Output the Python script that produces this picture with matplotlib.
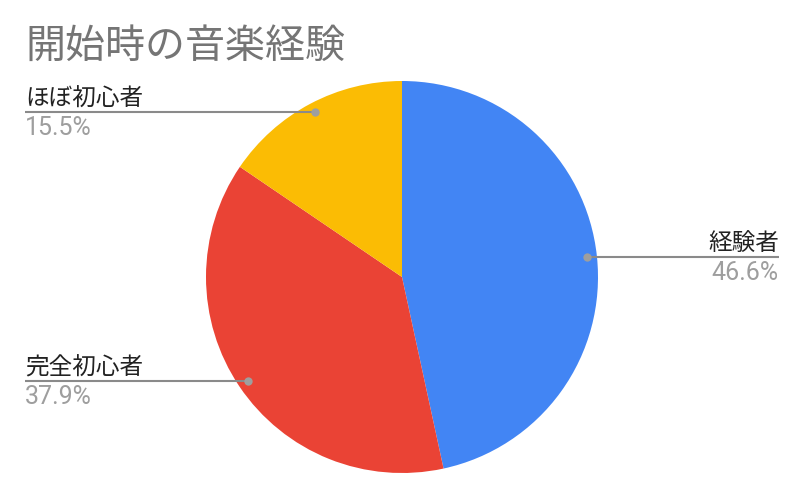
import numpy as np
import matplotlib
matplotlib.use('Agg')
import matplotlib.pyplot as plt

title = '開始時の音楽経験'
labels = ['経験者', '完全初心者', 'ほぼ初心者']
values = [46.6, 37.9, 15.5]
colors = ['#4285F4', '#EA4335', '#FBBC04']

W, H = 804, 498
cx, cy, R = 402, H - 277, 196

fig = plt.figure(figsize=(W / 100, H / 100), dpi=100)
ax = fig.add_axes([0, 0, 1, 1])

wedges, _ = ax.pie(values, colors=colors, startangle=90, counterclock=False,
                   center=(cx, cy), radius=R, frame=True,
                   wedgeprops=dict(linewidth=0))
ax.set_xlim(0, W)
ax.set_ylim(0, H)
ax.axis('off')

jp = ['Noto Sans CJK JP', 'DejaVu Sans']
num = ['Roboto', 'DejaVu Sans']

# leader lines, dots and labels
cum = np.cumsum([0] + values)
for i, (lab, v) in enumerate(zip(labels, values)):
    mid = (cum[i] + v / 2) / 100 * 2 * np.pi
    dx, dy = cx + 0.95 * R * np.sin(mid), cy + 0.95 * R * np.cos(mid)
    if dx > cx:
        x_end, ha = 779, 'right'
    else:
        x_end, ha = 25, 'left'
    ax.plot([dx, x_end], [dy, dy], color='#8a8a8a', lw=1.5, solid_capstyle='butt', zorder=3)
    ax.plot(dx, dy, 'o', color='#9e9e9e', ms=6, mec='none', zorder=4)
    ax.text(x_end, dy + 7, lab, ha=ha, va='baseline', fontsize=17,
            color='#222222', family=jp)
    ax.text(x_end, dy - 4, '{:.1f}%'.format(v), ha=ha, va='top', fontsize=18,
            color='#9e9e9e', family=num)

ax.text(25, H - 58, title, ha='left', va='baseline', fontsize=28.8,
        color='#757575', family=jp)

fig.savefig('out.png', dpi=100)
